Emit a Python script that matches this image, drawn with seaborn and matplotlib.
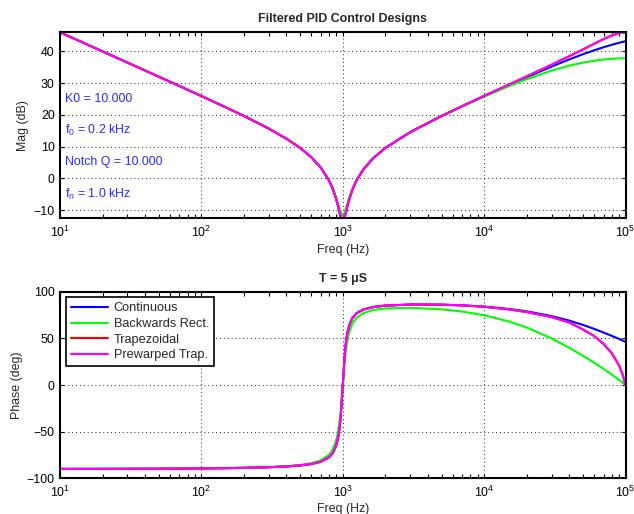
import numpy as np
import pandas as pd
import matplotlib
matplotlib.use("Agg")
import matplotlib.pyplot as plt
import seaborn as sns
from matplotlib.ticker import LogLocator, NullFormatter, FixedLocator

# ---------------- data ----------------
freq_hz = [10, 20, 30, 50, 70, 100, 150, 200, 300, 400, 500, 600, 700, 800, 850,
           900, 930, 950, 970, 1000, 1030, 1050, 1075, 1110, 1170, 1250, 1400, 1650,
           2000, 3000, 5000, 7000, 10000, 15000, 20000, 30000, 40000, 50000, 60000,
           70000, 80000, 90000, 95000, 100000]

mag_continuous = [46.02, 40.00, 36.47, 32.02, 29.08, 25.93, 22.30, 19.65, 15.66, 12.47, 9.56,
                  6.62, 3.35, -0.70, -3.31, -6.61, -9.05, -10.85, -12.3, -12.6, -12.3, -11.07,
                  -9.07, -6.68, -3.59, -0.70, 2.83, 6.43, 9.56, 14.55, 19.65, 22.74, 25.89,
                  29.41, 31.86, 35.21, 37.47, 39.11, 40.35, 41.32, 42.09, 42.71, 42.97, 43.22]
mag_backwards = [46.02, 40.00, 36.47, 32.02, 29.08, 25.93, 22.30, 19.65, 15.66, 12.47, 9.56,
                 6.62, 3.39, -0.59, -3.09, -6.12, -8.20, -9.60, -10.81, -11.61, -10.75, -9.63,
                 -8.08, -6.06, -3.25, -0.51, 2.94, 6.49, 9.60, 14.55, 19.61, 22.66, 25.74,
                 29.06, 31.25, 33.96, 35.51, 36.46, 37.05, 37.43, 37.67, 37.79, 37.83, 37.84]
mag_trapezoidal = [46.02, 40.00, 36.47, 32.02, 29.08, 25.93, 22.30, 19.65, 15.66, 12.47, 9.56,
                   6.62, 3.35, -0.70, -3.31, -6.61, -9.05, -10.85, -12.3, -12.6, -12.3, -11.07,
                   -9.07, -6.68, -3.59, -0.70, 2.83, 6.43, 9.56, 14.55, 19.65, 22.76, 25.97,
                   29.57, 32.13, 35.80, 38.48, 40.62, 42.40, 43.87, 45.01, 45.77, 45.96, 46.02]
mag_prewarped = [46.02, 40.00, 36.47, 32.02, 29.08, 25.93, 22.30, 19.65, 15.66, 12.47, 9.56,
                 6.62, 3.35, -0.70, -3.31, -6.61, -9.05, -10.85, -12.3, -12.6, -12.3, -11.07,
                 -9.07, -6.68, -3.59, -0.70, 2.83, 6.43, 9.56, 14.55, 19.65, 22.76, 25.97,
                 29.57, 32.13, 35.80, 38.48, 40.62, 42.40, 43.87, 45.01, 45.77, 45.96, 46.02]

phase_continuous = [-89.94, -89.89, -89.83, -89.71, -89.60, -89.42, -89.12, -88.81, -88.11,
                    -87.27, -86.19, -84.64, -82.18, -77.47, -72.97, -64.65, -55.46, -45.74,
                    -31.35, -0.55, 30.0, 43.7, 54.8, 63.8, 71.7, 76.8, 80.9, 83.6, 85.10, 86.21,
                    86.08, 85.35, 83.98, 81.49, 78.93, 73.86, 69.01, 64.43, 60.16, 56.23, 52.63,
                    49.34, 47.80, 46.34]
phase_backwards = [-89.93, -89.87, -89.80, -89.67, -89.53, -89.39, -89.07, -88.73, -87.96,
                   -87.01, -85.73, -83.85, -80.79, -74.85, -69.23, -59.21, -48.86, -38.85,
                   -25.59, -0.57, 23.48, 35.68, 46.64, 56.51, 65.81, 71.98, 77.14, 80.43, 82.06,
                   82.78, 81.10, 78.67, 74.72, 68.06, 61.64, 49.95, 39.89, 31.31, 23.85, 17.23,
                   11.19, 5.51, 2.74, 0.0]
phase_trapezoidal = [-89.94, -89.89, -89.83, -89.71, -89.60, -89.42, -89.12, -88.81, -88.11,
                     -87.27, -86.19, -84.64, -82.18, -77.47, -72.97, -64.65, -55.46, -45.74,
                     -31.35, -0.55, 30.0, 43.7, 54.8, 63.8, 71.7, 76.8, 80.9, 83.6, 85.10, 86.21,
                     86.08, 85.35, 83.90, 81.0, 78.2, 72.8, 67.0, 59.5, 52.5, 44.0, 34.0, 21.0,
                     12.0, 0.0]
phase_prewarped = [-89.94, -89.89, -89.83, -89.71, -89.60, -89.42, -89.12, -88.81, -88.11,
                   -87.27, -86.19, -84.64, -82.18, -77.47, -72.97, -64.65, -55.46, -45.74,
                   -31.35, -0.55, 30.0, 43.7, 54.8, 63.8, 71.7, 76.8, 80.9, 83.6, 85.10, 86.21,
                   86.08, 85.35, 83.90, 81.0, 78.2, 72.8, 67.0, 59.5, 52.5, 44.0, 34.0, 21.0,
                   12.0, 0.0]

series_names = ["Continuous", "Backwards Rect.", "Trapezoidal", "Prewarped Trap."]
series_colors = ["#0000ff", "#00ff00", "#ff0000", "#ff00ff"]

mag_ticks = [-10, 0, 10, 20, 30, 40]
phase_ticks = [-100, -50, 0, 50, 100]

annotations = ["K0 = 10.000", r"f$_{0}$ = 0.2 kHz", "Notch Q = 10.000", r"f$_{\mathrm{n}}$ = 1.0 kHz"]
annotation_y = [25, 15, 5, -5]

# ---------------- style ----------------
sns.set_theme(style="white")
plt.rcParams["font.family"] = ["Liberation Sans", "DejaVu Sans"]
plt.rcParams["mathtext.fontset"] = "custom"
plt.rcParams["mathtext.rm"] = "Liberation Sans"
plt.rcParams["mathtext.it"] = "Liberation Sans:italic"
plt.rcParams["mathtext.bf"] = "Liberation Sans:bold"
plt.rcParams["axes.unicode_minus"] = True

FS = 8.9

df = pd.DataFrame({
    "freq": freq_hz * 4,
    "mag": mag_continuous + mag_backwards + mag_trapezoidal + mag_prewarped,
    "phase": phase_continuous + phase_backwards + phase_trapezoidal + phase_prewarped,
    "design": sum([[n] * len(freq_hz) for n in series_names], []),
})

fig = plt.figure(figsize=(6.34, 5.14), dpi=100)
ax1 = fig.add_axes([60 / 634, 1 - 218.3 / 514, 565.5 / 634, 186 / 514])
ax2 = fig.add_axes([60 / 634, 1 - 478.3 / 514, 565.5 / 634, 186.6 / 514])

for ax, col in [(ax1, "mag"), (ax2, "phase")]:
    sns.lineplot(data=df, x="freq", y=col, hue="design", hue_order=series_names,
                 palette=series_colors, ax=ax, legend=False, linewidth=1.5,
                 estimator=None, sort=False)


def style(ax, yticks, ylim):
    ax.set_xscale("log")
    ax.set_xlim(10, 1e5)
    ax.set_ylim(*ylim)
    ax.xaxis.set_major_locator(LogLocator(base=10, numticks=10))
    ax.xaxis.set_minor_locator(LogLocator(base=10, subs=np.arange(2, 10), numticks=100))
    ax.xaxis.set_minor_formatter(NullFormatter())
    ax.yaxis.set_major_locator(FixedLocator(yticks))
    ax.tick_params(which="both", direction="in", top=True, right=True, bottom=True, left=True,
                   labelsize=FS, colors="black", width=0.8, length=2.6)
    ax.tick_params(axis="x", which="major", pad=5.0)
    ax.tick_params(axis="y", which="major", pad=3.8)
    for s in ax.spines.values():
        s.set_visible(True)
        s.set_linewidth(1.5)
        s.set_color("black")
    ax.set_axisbelow(True)
    ax.grid(True, which="major", color="#222222", linestyle=(0, (1, 3)), linewidth=0.7)
    ax.grid(False, which="minor")
    ax.set_facecolor("white")


style(ax1, mag_ticks, (-12.6, 46.02))
style(ax2, phase_ticks, (-100, 100))

ax1.set_xlabel("Freq (Hz)", fontsize=FS, labelpad=2.5)
ax1.set_ylabel("Mag (dB)", fontsize=FS, labelpad=3.0)
ax2.set_xlabel("Freq (Hz)", fontsize=FS, labelpad=1.5)
ax2.set_ylabel("Phase (deg)", fontsize=FS, labelpad=2.5)
ax1.set_title("Filtered PID Control Designs", fontsize=FS, fontweight="bold", pad=7.2)
ax2.set_title("T = 5 \u03bcS", fontsize=FS, fontweight="bold", pad=7.0)

for txt, yv in zip(annotations, annotation_y):
    ax1.text(10.85, yv, txt, color="#2a2aff", fontsize=FS, va="center", ha="left")

leg = ax2.legend(ax2.lines[:4], series_names, loc="upper left",
                 bbox_to_anchor=(5.7 / 565.5, 1 - 5.6 / 186.6), borderaxespad=0,
                 fontsize=9.2, frameon=True, fancybox=False, edgecolor="black",
                 handlelength=2.9, handletextpad=0.45, labelspacing=0.28, borderpad=0.4)
leg.get_frame().set_linewidth(1.2)
leg.get_frame().set_alpha(1)

fig.savefig("out.png", dpi=100, facecolor="white")
